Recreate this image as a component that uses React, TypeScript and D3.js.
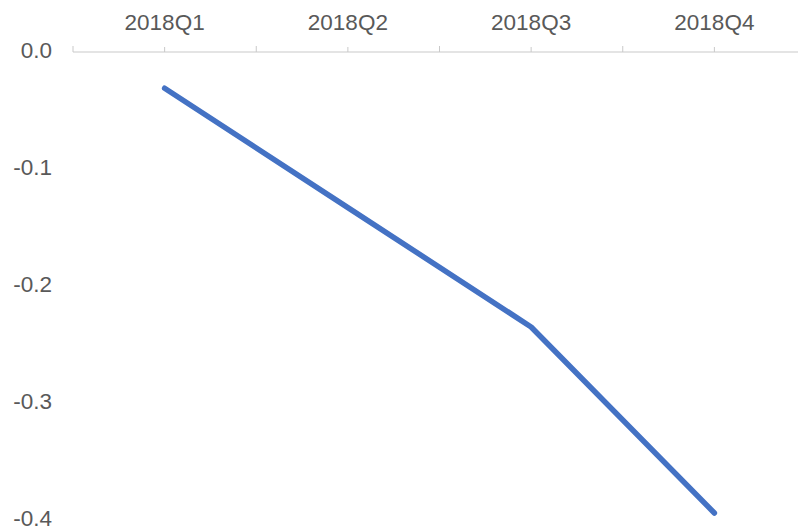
import React from "react";
import * as d3 from "d3";

const categories = ["2018Q1", "2018Q2", "2018Q3", "2018Q4"];
const values = [-0.031, -0.133, -0.235, -0.394];
const yTicks = [0, -0.1, -0.2, -0.3, -0.4];

const W = 798;
const H = 531;

export default function App() {
  const x = d3.scaleBand<string>().domain(categories).range([73, 806]);
  const y = d3.scaleLinear().domain([-0.4, 0]).range([520, 52]);
  const axisY = y(0);
  const line = d3
    .line<number>()
    .x((_, i) => (x(categories[i]) as number) + x.bandwidth() / 2)
    .y((d) => y(d));

  const boundaryTicks = categories.map((c) => x(c) as number).concat([x.range()[1]]);
  const centerTicks = categories.map((c) => (x(c) as number) + x.bandwidth() / 2);
  const font = "Arial, 'Liberation Sans', sans-serif";
  const textColor = "#595959";

  return (
    <svg
      width={W}
      height={H}
      style={{ position: "absolute", left: 0, top: 0, background: "#fff" }}
    >
      <line x1={73} x2={806} y1={axisY} y2={axisY} stroke="#c9c9c9" strokeWidth={1} />
      {boundaryTicks.map((t, i) => (
        <line key={"b" + i} x1={t} x2={t} y1={axisY} y2={axisY - 6} stroke="#c9c9c9" strokeWidth={1} />
      ))}
      {centerTicks.map((t, i) => (
        <line key={"c" + i} x1={t} x2={t} y1={axisY} y2={axisY - 5} stroke="#c9c9c9" strokeWidth={1} />
      ))}
      {categories.map((c) => (
        <text
          key={c}
          x={(x(c) as number) + x.bandwidth() / 2}
          y={30}
          textAnchor="middle"
          fontFamily={font}
          fontSize={22.5}
          fill={textColor}
        >
          {c}
        </text>
      ))}
      {yTicks.map((t) => (
        <text
          key={t}
          x={52}
          y={y(t) - 2}
          dy="0.35em"
          textAnchor="end"
          fontFamily={font}
          fontSize={22.5}
          fill={textColor}
        >
          {t === 0 ? "0.0" : d3.format(".1f")(t).replace("−", "-")}
        </text>
      ))}
      <path
        d={line(values) || ""}
        fill="none"
        stroke="#4472C4"
        strokeWidth={5.5}
        strokeLinecap="round"
        strokeLinejoin="round"
      />
    </svg>
  );
}
